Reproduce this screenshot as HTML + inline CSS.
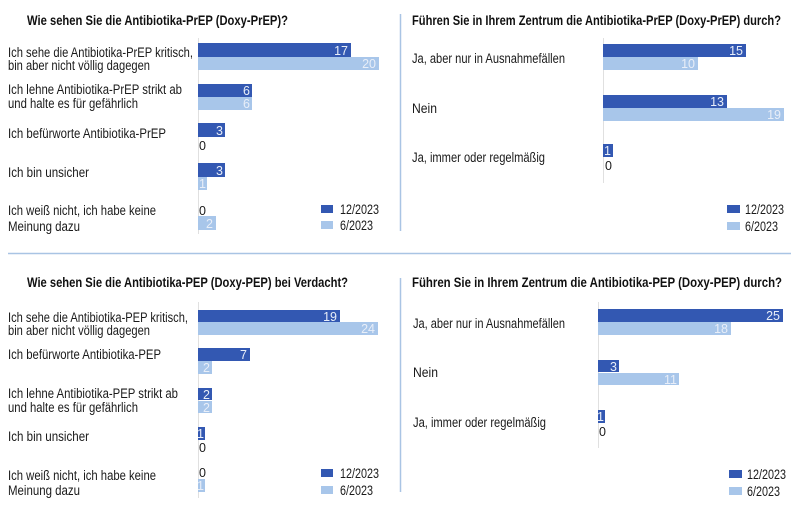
<!DOCTYPE html>
<html><head><meta charset="utf-8"><style>
html,body{margin:0;padding:0;background:#fff;}
svg{display:block;font-family:"Liberation Sans",sans-serif;}
.t{font-weight:bold;font-size:14px;fill:#111;}
.l{font-size:13.5px;fill:#1a1a1a;}
.g{font-size:13.5px;fill:#1a1a1a;}
.v{font-size:12.5px;fill:#e8eef8;text-anchor:end;}
.z{font-size:12.5px;fill:#1a1a1a;}
.d{fill:#3358b2;}
.li{fill:#a8c6ea;}
.ax{stroke:#e0e0e0;stroke-width:1;}
</style></head><body>
<svg width="800" height="508" viewBox="0 0 800 508" xmlns="http://www.w3.org/2000/svg">
<line x1="400.5" y1="14" x2="400.5" y2="231" stroke="#a9c4e4" stroke-width="1.5"/>
<line x1="400.5" y1="278" x2="400.5" y2="492" stroke="#a9c4e4" stroke-width="1.5"/>
<line x1="8" y1="253.5" x2="791" y2="253.5" stroke="#a9c4e4" stroke-width="1.5"/>

<!-- TOP LEFT -->
<text class="t" x="27" y="25" textLength="261" lengthAdjust="spacingAndGlyphs">Wie sehen Sie die Antibiotika-PrEP (Doxy-PrEP)?</text>
<line class="ax" x1="198.5" y1="38" x2="198.5" y2="234"/>
<text class="l" x="8" y="57" textLength="185" lengthAdjust="spacingAndGlyphs">Ich sehe die Antibiotika-PrEP kritisch,</text>
<text class="l" x="8" y="70" textLength="142" lengthAdjust="spacingAndGlyphs">bin aber nicht völlig dagegen</text>
<text class="l" x="8" y="94" textLength="174" lengthAdjust="spacingAndGlyphs">Ich lehne Antibiotika-PrEP strikt ab</text>
<text class="l" x="8" y="108" textLength="130" lengthAdjust="spacingAndGlyphs">und halte es für gefährlich</text>
<text class="l" x="8" y="138" textLength="158" lengthAdjust="spacingAndGlyphs">Ich befürworte Antibiotika-PrEP</text>
<text class="l" x="8" y="177" textLength="81" lengthAdjust="spacingAndGlyphs">Ich bin unsicher</text>
<text class="l" x="8" y="215" textLength="148" lengthAdjust="spacingAndGlyphs">Ich weiß nicht, ich habe keine</text>
<text class="l" x="8" y="231" textLength="72" lengthAdjust="spacingAndGlyphs">Meinung dazu</text>
<rect class="d" x="198" y="43" width="153" height="14"/><text class="v" x="348" y="55">17</text>
<rect class="li" x="198" y="57" width="181" height="13"/><text class="v" x="376" y="68">20</text>
<rect class="d" x="198" y="84" width="54" height="13"/><text class="v" x="250" y="95">6</text>
<rect class="li" x="198" y="97" width="54" height="13"/><text class="v" x="250" y="108">6</text>
<rect class="d" x="198" y="123" width="27" height="14"/><text class="v" x="223" y="135">3</text>
<text class="z" x="199" y="150">0</text>
<rect class="d" x="198" y="163" width="27" height="14"/><text class="v" x="223" y="175">3</text>
<rect class="li" x="198" y="177" width="9" height="13"/><text class="v" x="206" y="188">1</text>
<text class="z" x="199" y="215">0</text>
<rect class="li" x="198" y="216" width="18" height="14"/><text class="v" x="213" y="228">2</text>
<rect class="d" x="321" y="205" width="12" height="8"/><text class="g" x="340" y="214" textLength="39" lengthAdjust="spacingAndGlyphs">12/2023</text>
<rect class="li" x="321" y="221" width="12" height="8"/><text class="g" x="340" y="230" textLength="33" lengthAdjust="spacingAndGlyphs">6/2023</text>

<!-- TOP RIGHT -->
<text class="t" x="412" y="25" textLength="369" lengthAdjust="spacingAndGlyphs">Führen Sie in Ihrem Zentrum die Antibiotika-PrEP (Doxy-PrEP) durch?</text>
<line class="ax" x1="603.5" y1="38" x2="603.5" y2="183"/>
<text class="l" x="412" y="63" textLength="153" lengthAdjust="spacingAndGlyphs">Ja, aber nur in Ausnahmefällen</text>
<text class="l" x="412" y="113" textLength="25" lengthAdjust="spacingAndGlyphs">Nein</text>
<text class="l" x="412" y="162" textLength="133" lengthAdjust="spacingAndGlyphs">Ja, immer oder regelmäßig</text>
<rect class="d" x="603" y="44" width="143" height="13"/><text class="v" x="743" y="55">15</text>
<rect class="li" x="603" y="57" width="95" height="13"/><text class="v" x="695" y="68">10</text>
<rect class="d" x="603" y="95" width="124" height="13"/><text class="v" x="724" y="106">13</text>
<rect class="li" x="603" y="108" width="181" height="13"/><text class="v" x="781" y="119">19</text>
<rect class="d" x="603" y="144" width="10" height="13"/><text class="v" x="611" y="155">1</text>
<text class="z" x="605" y="170">0</text>
<rect class="d" x="727" y="205" width="13" height="8"/><text class="g" x="745" y="214" textLength="39" lengthAdjust="spacingAndGlyphs">12/2023</text>
<rect class="li" x="727" y="222" width="13" height="8"/><text class="g" x="745" y="231" textLength="33" lengthAdjust="spacingAndGlyphs">6/2023</text>

<!-- BOTTOM LEFT -->
<text class="t" x="27" y="287" textLength="321" lengthAdjust="spacingAndGlyphs">Wie sehen Sie die Antibiotika-PEP (Doxy-PEP) bei Verdacht?</text>
<line class="ax" x1="198.5" y1="302" x2="198.5" y2="498"/>
<text class="l" x="8" y="322" textLength="180" lengthAdjust="spacingAndGlyphs">Ich sehe die Antibiotika-PEP kritisch,</text>
<text class="l" x="8" y="335" textLength="142" lengthAdjust="spacingAndGlyphs">bin aber nicht völlig dagegen</text>
<text class="l" x="8" y="359" textLength="153" lengthAdjust="spacingAndGlyphs">Ich befürworte Antibiotika-PEP</text>
<text class="l" x="8" y="398" textLength="170" lengthAdjust="spacingAndGlyphs">Ich lehne Antibiotika-PEP strikt ab</text>
<text class="l" x="8" y="412" textLength="130" lengthAdjust="spacingAndGlyphs">und halte es für gefährlich</text>
<text class="l" x="8" y="441" textLength="81" lengthAdjust="spacingAndGlyphs">Ich bin unsicher</text>
<text class="l" x="8" y="480" textLength="148" lengthAdjust="spacingAndGlyphs">Ich weiß nicht, ich habe keine</text>
<text class="l" x="8" y="495" textLength="72" lengthAdjust="spacingAndGlyphs">Meinung dazu</text>
<rect class="d" x="198" y="310" width="142" height="12"/><text class="v" x="337" y="321">19</text>
<rect class="li" x="198" y="322" width="180" height="13"/><text class="v" x="375" y="333">24</text>
<rect class="d" x="198" y="348" width="52" height="13"/><text class="v" x="247" y="359">7</text>
<rect class="li" x="198" y="361" width="14" height="13"/><text class="v" x="210" y="372">2</text>
<rect class="d" x="198" y="388" width="14" height="12"/><text class="v" x="210" y="399">2</text>
<rect class="li" x="198" y="401" width="14" height="12"/><text class="v" x="210" y="412">2</text>
<rect class="d" x="198" y="427" width="7" height="13"/><text class="v" x="204" y="438">1</text>
<text class="z" x="199" y="452">0</text>
<text class="z" x="199" y="477">0</text>
<rect class="li" x="198" y="479" width="7" height="13"/><text class="v" x="204" y="490">1</text>
<rect class="d" x="321" y="469" width="12" height="8"/><text class="g" x="340" y="478" textLength="39" lengthAdjust="spacingAndGlyphs">12/2023</text>
<rect class="li" x="321" y="486" width="12" height="8"/><text class="g" x="340" y="495" textLength="33" lengthAdjust="spacingAndGlyphs">6/2023</text>

<!-- BOTTOM RIGHT -->
<text class="t" x="412" y="287" textLength="370" lengthAdjust="spacingAndGlyphs">Führen Sie in Ihrem Zentrum die Antibiotika-PEP (Doxy-PEP) durch?</text>
<line class="ax" x1="598.5" y1="302" x2="598.5" y2="448"/>
<text class="l" x="413" y="328" textLength="152" lengthAdjust="spacingAndGlyphs">Ja, aber nur in Ausnahmefällen</text>
<text class="l" x="413" y="377" textLength="25" lengthAdjust="spacingAndGlyphs">Nein</text>
<text class="l" x="413" y="427" textLength="133" lengthAdjust="spacingAndGlyphs">Ja, immer oder regelmäßig</text>
<rect class="d" x="598" y="309" width="185" height="13"/><text class="v" x="780" y="320">25</text>
<rect class="li" x="598" y="322" width="133" height="13"/><text class="v" x="728" y="333">18</text>
<rect class="d" x="598" y="360" width="21" height="12"/><text class="v" x="617" y="371">3</text>
<rect class="li" x="598" y="373" width="81" height="12"/><text class="v" x="677" y="384">11</text>
<rect class="d" x="598" y="410" width="7" height="13"/><text class="v" x="604" y="421">1</text>
<text class="z" x="599" y="436">0</text>
<rect class="d" x="729" y="470" width="13" height="8"/><text class="g" x="747" y="479" textLength="39" lengthAdjust="spacingAndGlyphs">12/2023</text>
<rect class="li" x="729" y="487" width="13" height="8"/><text class="g" x="747" y="496" textLength="33" lengthAdjust="spacingAndGlyphs">6/2023</text>
</svg>
</body></html>
